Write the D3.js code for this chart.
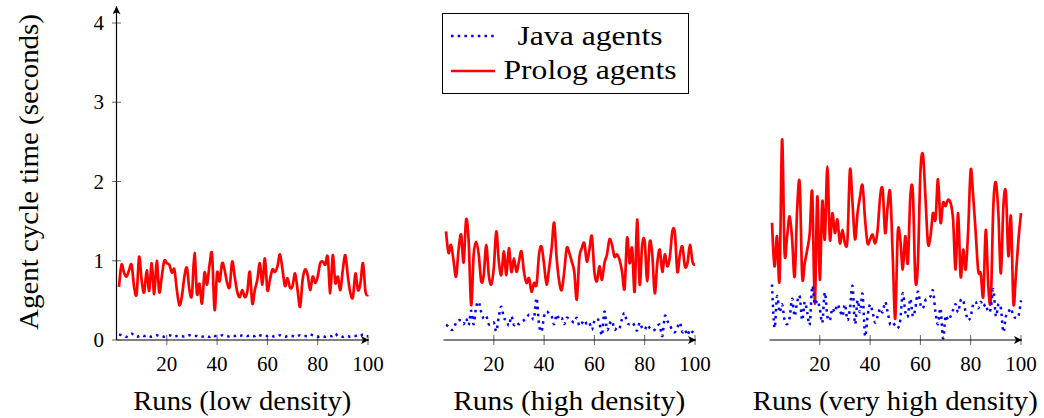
<!DOCTYPE html>
<html>
<head>
<meta charset="utf-8">
<script src="https://cdn.jsdelivr.net/npm/d3@7/dist/d3.min.js"></script>
<style>
  body { margin: 0; background: #fff; }
  svg { display: block; }
  text { font-family: "Liberation Serif", "Times New Roman", serif; fill: #000; }
</style>
</head>
<body>
<div id="root"></div>
<script>
// runs 1..100 for every panel
const runs = d3.range(1, 101);

const lowJava = [0.07,0.06,0.05,0.04,0.06,0.08,0.06,0.04,0.05,0.06,
  0.05,0.06,0.05,0.04,0.05,0.06,0.05,0.05,0.04,0.05,
  0.06,0.05,0.04,0.05,0.05,0.05,0.04,0.05,0.06,0.05,
  0.05,0.05,0.04,0.04,0.05,0.05,0.04,0.06,0.05,0.05,
  0.05,0.06,0.05,0.05,0.04,0.05,0.05,0.06,0.05,0.06,
  0.06,0.05,0.06,0.05,0.05,0.07,0.06,0.05,0.05,0.05,
  0.06,0.05,0.04,0.05,0.06,0.05,0.04,0.05,0.05,0.05,
  0.04,0.05,0.06,0.05,0.05,0.05,0.07,0.06,0.05,0.04,
  0.05,0.05,0.04,0.05,0.05,0.05,0.08,0.05,0.05,0.04,
  0.05,0.05,0.04,0.05,0.05,0.06,0.05,0.07,0.05,0.05];

const lowProlog = [0.67,0.95,0.85,0.80,0.88,0.95,0.67,0.58,1.05,0.75,
  0.60,0.88,0.62,0.97,0.58,1.00,0.60,0.80,1.00,0.97,
  0.95,0.85,0.89,0.63,0.44,0.55,0.80,0.91,0.63,0.57,
  1.10,0.58,0.71,0.46,0.85,0.70,0.95,1.08,0.38,0.85,
  0.74,0.97,0.88,0.72,0.67,0.99,0.80,
  0.61,0.54,0.63,0.54,0.61,0.86,0.46,0.63,0.76,0.97,
  0.70,1.03,0.63,0.76,0.89,0.86,0.93,1.08,0.89,0.68,
  0.78,0.66,0.68,0.84,0.63,0.42,0.76,0.89,0.82,0.63,
  0.80,0.72,0.80,0.97,0.99,0.95,1.05,0.59,1.07,0.72,
  0.80,0.63,0.89,1.07,0.80,0.59,0.54,0.84,0.63,0.72,
  0.97,0.61,0.57];

const highJava = [0.19,0.17,0.13,0.14,0.22,0.25,0.24,0.20,0.27,0.19,
  0.37,0.20,0.42,0.48,0.35,0.27,0.30,0.20,0.20,0.22,
  0.11,0.30,0.42,0.28,0.25,0.18,0.30,0.19,0.22,0.20,
  0.23,0.25,0.28,0.32,0.30,0.27,0.53,0.19,0.11,0.30,
  0.36,0.33,0.30,0.20,0.32,0.26,0.28,0.20,
  0.28,0.26,0.24,0.22,0.28,0.18,0.21,0.25,0.20,0.22,
  0.13,0.24,0.27,0.22,0.06,0.36,0.13,0.20,0.24,0.13,
  0.16,0.15,0.27,0.34,0.22,0.20,0.22,0.18,0.12,0.22,
  0.15,0.13,0.19,0.15,0.12,0.13,0.17,0.19,0.05,0.30,
  0.24,0.19,0.12,0.10,0.16,0.22,0.10,0.13,0.06,0.13,
  0.10,0.08];

const highProlog = [1.37,1.10,1.20,1.00,0.80,1.14,1.33,0.98,1.52,1.25,
  0.44,1.08,1.24,1.08,0.74,0.82,1.20,0.82,0.70,0.91,
  1.37,0.99,0.82,1.12,0.82,1.16,0.86,1.03,0.86,0.99,
  1.12,0.86,0.72,0.78,0.61,0.72,0.70,1.08,1.18,0.95,
  0.70,0.91,1.16,1.48,1.03,0.74,
  0.63,0.86,1.16,1.10,0.99,0.86,0.51,1.03,1.16,1.22,
  0.99,1.14,1.31,0.86,0.74,0.93,0.76,0.97,1.08,1.27,
  1.20,1.05,1.08,1.01,0.86,0.65,1.29,0.97,1.16,0.61,
  1.52,0.70,1.20,1.24,0.74,1.24,1.08,0.59,0.97,1.14,
  0.86,1.08,0.93,1.05,1.37,1.35,0.86,1.08,1.18,0.93,
  0.97,1.20,0.99,0.95];

const veryHighJava = [0.70,0.15,0.55,0.35,0.45,0.25,0.20,0.28,0.52,0.30,
  0.48,0.55,0.25,0.48,0.35,0.20,0.68,0.45,0.50,0.40,
  0.22,0.60,0.30,0.25,0.40,0.35,0.45,0.38,0.30,0.45,
  0.25,0.40,0.68,0.20,0.50,0.35,0.58,0.05,0.30,0.45,
  0.35,0.22,0.30,0.40,0.35,0.48,0.35,0.20,0.22,
  0.18,0.15,0.25,0.59,0.35,0.30,0.52,0.30,0.40,0.61,
  0.45,0.40,0.50,0.52,0.55,0.62,0.35,0.20,0.40,0.02,
  0.30,0.25,0.30,0.38,0.45,0.35,0.50,0.50,0.35,0.25,
  0.30,0.45,0.48,0.40,0.48,0.42,0.45,0.35,0.40,0.64,
  0.30,0.45,0.40,0.10,0.30,0.35,0.40,0.30,0.28,0.30,
  0.50];

const veryHighProlog = [1.48,0.93,1.31,0.76,2.53,1.10,1.31,1.56,1.27,0.80,
  1.65,1.98,0.80,0.97,1.14,1.35,1.86,0.46,1.81,0.76,
  1.75,1.27,2.19,1.27,1.60,1.35,1.52,1.22,1.39,1.22,
  1.27,2.15,1.73,1.27,1.60,1.81,1.95,1.52,1.22,1.27,
  1.33,1.22,1.39,1.81,1.90,1.35,1.69,
  1.86,1.06,0.27,1.35,1.27,0.89,1.31,0.97,1.81,1.86,
  0.76,0.97,2.11,2.34,1.81,1.22,1.31,1.60,1.52,2.03,
  1.48,1.73,1.69,1.77,1.73,1.52,0.89,1.60,0.80,1.14,
  0.89,1.39,2.15,1.81,1.35,0.87,0.84,0.55,1.39,0.68,
  0.51,1.69,1.99,1.60,0.84,1.69,1.86,1.06,1.56,0.46,
  0.84,1.27,1.60];

const panelTitles = ['Runs (low density)', 'Runs (high density)', 'Runs (very high density)'];
const seriesNames = ['Java agents', 'Prolog agents'];
const xTickValues = [20, 40, 60, 80, 100];
const yTickValues = [0, 1, 2, 3, 4];
const yTitle = 'Agent cycle time (seconds)';

const panels = [
  { title: panelTitles[0], java: lowJava, prolog: lowProlog, left: 116.5 },
  { title: panelTitles[1], java: highJava, prolog: highProlog, left: 443.5 },
  { title: panelTitles[2], java: veryHighJava, prolog: veryHighProlog, left: 769.5 }
];

const W = 1044, H = 418;
const plotW = 251.5;
const y = d3.scaleLinear().domain([0, 4]).range([340, 23]);

const svg = d3.select('#root').append('svg')
  .attr('width', W)
  .attr('height', H);

const defs = svg.append('defs');
defs.append('marker')
  .attr('id', 'arrow')
  .attr('viewBox', '0 0 10 10')
  .attr('refX', 10).attr('refY', 5)
  .attr('markerUnits', 'userSpaceOnUse')
  .attr('markerWidth', 9).attr('markerHeight', 8)
  .attr('orient', 'auto')
  .append('path')
  .attr('d', 'M0,0 L10,5 L0,10 L2.5,5 Z')
  .attr('fill', '#000');

const line = (x, vals) => d3.line()
  .x((d, i) => x(runs[i]))
  .y(d => y(d))
  .curve(d3.curveCardinal.tension(0))(vals);

panels.forEach((p, pi) => {
  const x = d3.scaleLinear().domain([0, 100]).range([p.left, p.left + plotW]);
  const g = svg.append('g');

  // x ticks (crossing the axis)
  g.selectAll('.xt').data(xTickValues).enter().append('line')
    .attr('x1', d => x(d)).attr('x2', d => x(d))
    .attr('y1', y(0) - 5).attr('y2', y(0) + 5)
    .attr('stroke', '#666').attr('stroke-width', 1);

  g.selectAll('.xl').data(xTickValues).enter().append('text')
    .attr('x', d => x(d)).attr('y', 371)
    .attr('text-anchor', 'middle')
    .attr('font-size', 21)
    .text(d => d);

  // data
  g.append('path')
    .attr('d', line(x, p.prolog))
    .attr('fill', 'none')
    .attr('stroke', '#ff0000')
    .attr('stroke-width', 2.7)
    .attr('stroke-linejoin', 'round');

  g.append('path')
    .attr('d', line(x, p.java))
    .attr('fill', 'none')
    .attr('stroke', '#0000ff')
    .attr('stroke-width', 2.5)
    .attr('stroke-dasharray', '2.5 4.2');

  // x axis line
  g.append('line')
    .attr('x1', x(0)).attr('x2', x(100) + 1)
    .attr('y1', y(0)).attr('y2', y(0))
    .attr('stroke', '#000').attr('stroke-width', 1.2)
    .attr('marker-end', 'url(#arrow)');

  g.append('text')
    .attr('x', x(50)).attr('y', 410)
    .attr('text-anchor', 'middle')
    .attr('font-size', 27)
    .attr('textLength', [218, 232, 285][pi])
    .attr('lengthAdjust', 'spacingAndGlyphs')
    .text(p.title);

  // y axis only on the first panel
  if (pi === 0) {
    g.selectAll('.yt').data(yTickValues).enter().append('line')
      .attr('x1', x(0) - 4.5).attr('x2', x(0) + 4.5)
      .attr('y1', d => y(d)).attr('y2', d => y(d))
      .attr('stroke', '#666').attr('stroke-width', 1);

    g.selectAll('.yl').data(yTickValues).enter().append('text')
      .attr('x', 104).attr('y', d => y(d) + 7)
      .attr('text-anchor', 'end')
      .attr('font-size', 21)
      .text(d => d);

    g.append('line')
      .attr('x1', x(0)).attr('x2', x(0))
      .attr('y1', y(0)).attr('y2', y(4.21))
      .attr('stroke', '#000').attr('stroke-width', 1.2)
      .attr('marker-end', 'url(#arrow)');
  }
});

// y title
svg.append('text')
  .attr('transform', 'translate(38,172) rotate(-90)')
  .attr('text-anchor', 'middle')
  .attr('font-size', 27)
  .attr('textLength', 316)
  .attr('lengthAdjust', 'spacingAndGlyphs')
  .text(yTitle);

// legend
const legend = svg.append('g');
legend.append('rect')
  .attr('x', 442.5).attr('y', 13.5)
  .attr('width', 246).attr('height', 80)
  .attr('fill', '#fff')
  .attr('stroke', '#000').attr('stroke-width', 1);

const legendRows = [
  { name: seriesNames[0], color: '#0000ff', dash: '2.5 4.2', w: 2.5, ly: 36, ty: 45, len: 145 },
  { name: seriesNames[1], color: '#ff0000', dash: null, w: 2.7, ly: 71, ty: 79, len: 173 }
];
legendRows.forEach(r => {
  legend.append('line')
    .attr('x1', 451).attr('x2', 495)
    .attr('y1', r.ly).attr('y2', r.ly)
    .attr('stroke', r.color).attr('stroke-width', r.w)
    .attr('stroke-dasharray', r.dash);
  legend.append('text')
    .attr('x', 590).attr('y', r.ty)
    .attr('text-anchor', 'middle')
    .attr('font-size', 27)
    .attr('textLength', r.len)
    .attr('lengthAdjust', 'spacingAndGlyphs')
    .text(r.name);
});
</script>
</body>
</html>
